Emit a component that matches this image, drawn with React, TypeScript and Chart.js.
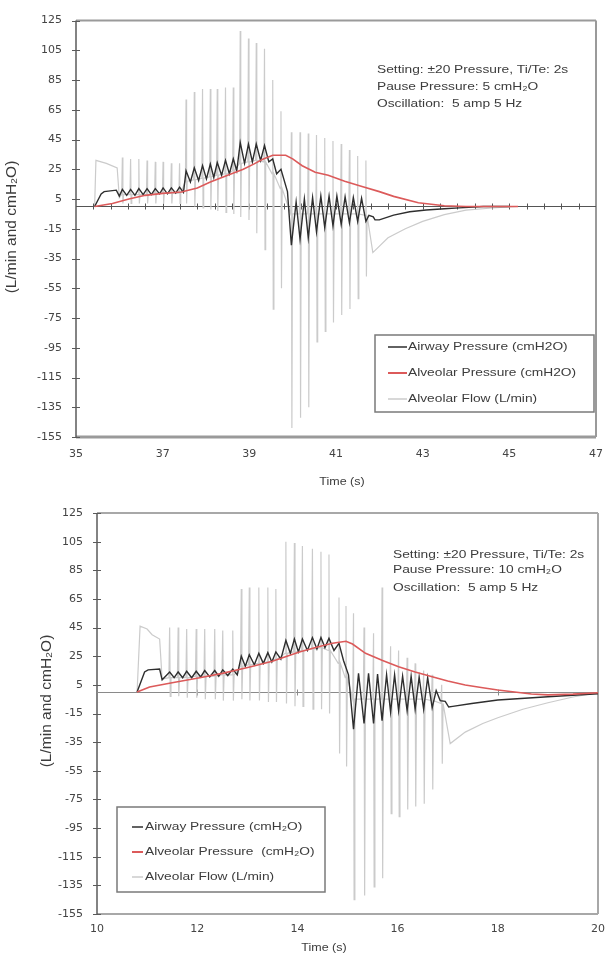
import React, { useEffect, useRef } from "react";
import { Chart, registerables } from "chart.js";

Chart.register(...registerables);

// ================= shared axis values =================
const valueTicks = [-155, -135, -115, -95, -75, -55, -35, -15, 5, 25, 45, 65, 85, 105, 125];

// ================= Panel 1 (pause pressure 5 cmH2O) =================
const p1TimeTicks = [35, 37, 39, 41, 43, 45, 47];
const p1ZeroLineTicks = [35.4, 35.8, 36.2, 36.6, 37.0, 37.4, 37.8, 38.2, 38.6, 39.0, 39.4, 39.8, 40.2, 40.6, 41.0, 41.4, 41.8, 42.2, 42.6, 43.0, 43.4, 43.8, 44.2, 44.6, 45.0, 45.4, 45.8, 46.2, 46.6];

const p1AirwayT = [35.43, 35.58, 35.65, 35.93, 36.0,
  36.07, 36.17, 36.26, 36.36, 36.45, 36.55, 36.64, 36.74, 36.83, 36.93, 37.01, 37.11, 37.2, 37.3, 37.39, 37.48,
  37.54, 37.64, 37.73, 37.83, 37.92, 38.01, 38.1, 38.18, 38.26, 38.36, 38.45, 38.54, 38.63, 38.71,
  38.79, 38.89, 38.98, 39.07, 39.16, 39.26, 39.35, 39.45, 39.54, 39.63, 39.73, 39.88, 39.97,
  40.08, 40.17, 40.27, 40.36, 40.46, 40.55, 40.65, 40.74, 40.84, 40.93, 41.02, 41.12, 41.21, 41.31, 41.4, 41.5, 41.59, 41.69,
  41.76, 41.86, 41.9, 42.0, 42.33, 42.7, 43.08, 43.5, 43.84, 44.4, 45.0];
const p1AirwayV = [0, 8.5, 10, 11, 7,
  11.5, 7.5, 11.5, 7.5, 12, 8, 12, 8, 12, 8.5, 12.5, 8.5, 12.5, 9, 13, 9.5,
  24, 16.5, 26, 17.5, 27.5, 18.5, 28.5, 19.5, 29.5, 21, 31, 22, 32, 24,
  43, 29, 42, 30, 42, 31, 41, 30, 32, 22, 25, 10, -26,
  3, -22, 5, -21, 6, -17, 7, -14, 7, -13, 7, -12, 6.5, -11, 6, -10, 5.5, -10,
  -6, -7, -9, -9, -5.8, -3.5, -2.4, -1.5, -0.9, 0, 0];

const p1AlveolarT = [35.43, 35.84, 36.22, 36.6, 37.0, 37.43, 37.8, 38.1, 38.5, 38.86, 39.1, 39.31, 39.54, 39.84, 40.0, 40.22, 40.52, 40.82, 41.2, 41.6, 42.0, 42.33, 42.9, 43.5, 44.0, 45.2];
const p1AlveolarV = [0, 2, 5, 7.5, 8.8, 9.7, 12.5, 16.4, 21, 25, 28.5, 31.8, 34.5, 34.5, 32, 27.4, 23, 21, 17, 13.5, 10, 6.8, 2.5, 0.5, 0, 0];

const p1FlowLeadT = [35.43, 35.46, 35.7, 35.95, 36.0];
const p1FlowLeadV = [0, 31, 29, 26, 6];
const p1FlowSpikeT = [36.07, 36.26, 36.45, 36.64, 36.83, 37.01, 37.2, 37.39,
  37.54, 37.73, 37.92, 38.1, 38.26, 38.45, 38.63,
  38.79, 38.98, 39.16, 39.35, 39.54, 39.73,
  39.97, 40.17, 40.36, 40.55, 40.74, 40.93, 41.12, 41.31, 41.5, 41.69];
const p1FlowPeak = [33, 32, 32, 31, 30, 30, 29, 29,
  72, 77, 79, 79, 79, 80, 80,
  118, 113, 110, 106, 85, 64,
  50, 50, 49, 48, 46, 44, 42, 38, 34, 31];
const p1FlowTrough = [2, 2, 2, 2, 2, 2, 2, 2,
  2, 0, -1, -2, -3, -4, -5,
  -7, -9, -18, -29, -69, -55,
  -149, -142, -135, -91, -84, -78, -73, -69, -62, -47];
const p1FlowBase = [8, 8, 8, 8, 9, 9, 9, 9,
  17, 18, 19, 20, 21, 22, 24,
  29, 30, 31, 30, 22, 12,
  -5, -5, -5, -5, -5, -5, -5, -5, -5, -6];
const p1FlowTailT = [41.85, 42.2, 42.6, 43.0, 43.5, 44.0, 44.6, 45.2];
const p1FlowTailV = [-31, -21, -15, -10, -5.5, -2.5, -1, 0];

// ================= Panel 2 (pause pressure 10 cmH2O) =================
const p2TimeTicks = [10, 12, 14, 16, 18, 20];
const p2ZeroLineTicks = [12, 14, 16, 18];

const p2AirwayT = [10.8, 10.95, 11.02, 11.25, 11.3,
  11.45, 11.54, 11.62, 11.71, 11.79, 11.89, 11.98, 12.07, 12.15, 12.25, 12.35, 12.43, 12.51, 12.61, 12.71, 12.8,
  12.88, 12.96, 13.04, 13.14, 13.23, 13.32, 13.41, 13.49, 13.57, 13.67,
  13.77, 13.86, 13.94, 14.02, 14.1, 14.2, 14.3, 14.39, 14.47, 14.55, 14.63, 14.73, 14.83, 14.92, 15.02, 15.12,
  15.22, 15.33, 15.42, 15.52, 15.6, 15.69, 15.78, 15.86, 15.94, 16.02, 16.1, 16.19, 16.27, 16.35, 16.43, 16.52, 16.6, 16.69,
  16.77, 16.85, 16.95, 17.02, 17.1, 17.48, 18.0, 19.0, 20.0];
const p2AirwayV = [0, 14, 15.5, 16, 8.5,
  14, 10, 14, 10, 14.5, 10, 14.5, 10.5, 15, 10.5, 15, 11, 15.5, 11.5, 16, 12,
  25, 18, 26, 19, 27, 20, 27.5, 21, 28, 23,
  36, 27, 37, 28, 37, 29, 38, 30, 38, 31, 37.5, 29, 34, 22, 12, -26,
  13, -22, 13, -22, 12.5, -20, 12, -14, 12, -13, 11, -13, 11, -12, 10.5, -12, 10, -11,
  1, -6, -6.5, -10.5, -10, -8, -5.6, -3.3, -1.2];

const p2AlveolarT = [10.8, 11.05, 11.5, 12.05, 12.5, 13.05, 13.5, 14.04, 14.4, 14.7, 14.97, 15.1, 15.36, 15.7, 16.02, 16.35, 16.69, 17.0, 17.35, 17.7, 18.0, 18.67, 19.0, 19.5, 20.0];
const p2AlveolarV = [0, 3.5, 6.5, 10, 13, 17.5, 21.5, 28, 31.5, 34, 35.4, 33.5, 27, 22, 17.7, 14, 10.7, 7.7, 4.9, 3, 1.4, -1.4, -2, -1.5, -0.5];

const p2FlowLeadT = [10.8, 10.86, 11.0, 11.1, 11.25, 11.3];
const p2FlowLeadV = [0, 46, 44, 40, 37, 9];
const p2FlowSpikeT = [11.45, 11.62, 11.79, 11.98, 12.15, 12.35, 12.51, 12.71,
  12.88, 13.04, 13.23, 13.41, 13.57,
  13.77, 13.94, 14.1, 14.3, 14.47, 14.63, 14.83, 14.97,
  15.12, 15.33, 15.52, 15.69, 15.86, 16.02, 16.19, 16.35, 16.52, 16.69, 16.88];
const p2FlowPeak = [45, 45, 44, 44, 44, 44, 43, 43,
  72, 73, 73, 73, 72,
  105, 104, 102, 100, 98, 96, 66, 60,
  55, 45, 41, 73, 32, 29, 24, 20, 15, 12, 5];
const p2FlowTrough = [-3, -3, -4, -4, -5, -5, -6, -6,
  -5, -6, -6, -7, -7,
  -8, -10, -10, -12, -12, -15, -43, -52,
  -145, -142, -136, -130, -85, -87, -82, -80, -78, -68, -50];
const p2FlowBase = [10, 10, 10, 11, 11, 11, 12, 12,
  18, 19, 20, 21, 23,
  27, 28, 29, 30, 31, 29, 20, 10,
  -5, -5, -5, -5, -5, -5, -5, -5, -5, -6, -8];
const p2FlowTailT = [17.05, 17.35, 17.7, 18.0, 18.5, 19.0, 19.5, 20.0];
const p2FlowTailV = [-36, -28, -22, -18, -12, -7.5, -3.5, -0.5];

// ================= helpers =================
type P = { x: number; y: number };
const toPoints = (t: number[], v: number[]): P[] => t.map((x, i) => ({ x, y: v[i] }));

function flowSeries(leadT: number[], leadV: number[], spikeT: number[], peak: number[], trough: number[], base: number[], tailT: number[], tailV: number[]): P[] {
  const out: P[] = toPoints(leadT, leadV);
  spikeT.forEach((t, i) => {
    out.push({ x: t - 0.015, y: base[i] });
    out.push({ x: t, y: peak[i] });
    out.push({ x: t + 0.012, y: trough[i] });
    out.push({ x: t + 0.027, y: base[i] });
  });
  return out.concat(toPoints(tailT, tailV));
}

const SANS = '"Liberation Sans", Arial, sans-serif';
const TEXT = "#3c3c3c";

function drawText(ctx: CanvasRenderingContext2D, text: string, x: number, y: number, size: number, sx: number, align: CanvasTextAlign = "left", rotate = 0) {
  ctx.save();
  ctx.translate(x, y);
  if (rotate) ctx.rotate(rotate);
  ctx.scale(sx, 1);
  ctx.font = `${size}px ${SANS}`;
  ctx.fillStyle = TEXT;
  ctx.textAlign = align;
  ctx.textBaseline = "middle";
  ctx.fillText(text, 0, 0);
  ctx.restore();
}

function seg(ctx: CanvasRenderingContext2D, x1: number, y1: number, x2: number, y2: number, color: string, w: number) {
  ctx.beginPath();
  ctx.strokeStyle = color;
  ctx.lineWidth = w;
  ctx.moveTo(x1, y1);
  ctx.lineTo(x2, y2);
  ctx.stroke();
}

const AIRWAY = "#2e2e2e";
const ALVEOLAR = "#dc5a5a";
const FLOW = "#cbcbcb";

type PanelCfg = {
  canvasTop: number; canvasH: number; padTop: number; padRight: number; yAxisW: number; xAxisH: number; xLabelPad: number;
  xMin: number; xMax: number; xTicks: number[]; zeroTicks: number[]; zeroColor: string; frameColor: string; bottomW: number;
  airway: P[]; alveolar: P[]; flow: P[];
  legendBox: [number, number, number, number]; legendRows: number[]; legendLine: [number, number]; legendTextX: number; legendLabels: string[];
  notesX: number; notesY: number[]; notes: string[];
  xTitle: [number, number]; yTitle: [number, number]; yTitleSize: number;
};

const panel1: PanelCfg = {
  canvasTop: 0, canvasH: 490, padTop: 15, padRight: 8, yAxisW: 76, xAxisH: 53, xLabelPad: 11,
  xMin: 35, xMax: 47, xTicks: p1TimeTicks, zeroTicks: p1ZeroLineTicks, zeroColor: "#555", frameColor: "#9a9a9a", bottomW: 3,
  airway: toPoints(p1AirwayT, p1AirwayV),
  alveolar: toPoints(p1AlveolarT, p1AlveolarV),
  flow: flowSeries(p1FlowLeadT, p1FlowLeadV, p1FlowSpikeT, p1FlowPeak, p1FlowTrough, p1FlowBase, p1FlowTailT, p1FlowTailV),
  legendBox: [375, 335, 594, 412], legendRows: [347, 373, 399], legendLine: [388, 407], legendTextX: 408,
  legendLabels: ["Airway Pressure (cmH2O)", "Alveolar Pressure (cmH2O)", "Alveolar Flow (L/min)"],
  notesX: 377, notesY: [70, 87, 104],
  notes: ["Setting: \u00b120 Pressure, Ti/Te: 2s", "Pause Pressure: 5 cmH\u2082O", "Oscillation:  5 amp 5 Hz"],
  xTitle: [342, 482], yTitle: [12, 227], yTitleSize: 15.5,
};

const panel2: PanelCfg = {
  canvasTop: 490, canvasH: 466, padTop: 23, padRight: 14, yAxisW: 97, xAxisH: 42, xLabelPad: 9,
  xMin: 10, xMax: 20, xTicks: p2TimeTicks, zeroTicks: p2ZeroLineTicks, zeroColor: "#8a8a8a", frameColor: "#a8a8a8", bottomW: 2,
  airway: toPoints(p2AirwayT, p2AirwayV),
  alveolar: toPoints(p2AlveolarT, p2AlveolarV),
  flow: flowSeries(p2FlowLeadT, p2FlowLeadV, p2FlowSpikeT, p2FlowPeak, p2FlowTrough, p2FlowBase, p2FlowTailT, p2FlowTailV),
  legendBox: [117, 317, 325, 402], legendRows: [337, 362, 387], legendLine: [132, 143], legendTextX: 145,
  legendLabels: ["Airway Pressure (cmH\u2082O)", "Alveolar Pressure  (cmH\u2082O)", "Alveolar Flow (L/min)"],
  notesX: 393, notesY: [65, 80, 98],
  notes: ["Setting: \u00b120 Pressure, Ti/Te: 2s", "Pause Pressure: 10 cmH\u2082O", "Oscillation:  5 amp 5 Hz"],
  xTitle: [324, 458], yTitle: [47, 211], yTitleSize: 15.5,
};

function makeDecor(cfg: PanelCfg) {
  return {
    id: "decor",
    beforeDatasetsDraw(chart: any) {
      const { ctx, chartArea: a, scales } = chart;
      const x = scales.x, y = scales.y;
      ctx.save();
      // frame
      seg(ctx, a.left, a.top, a.right, a.top, cfg.frameColor, 2);
      seg(ctx, a.right, a.top, a.right, a.bottom, cfg.frameColor, 2);
      seg(ctx, a.left, a.bottom, a.right, a.bottom, cfg.frameColor, cfg.bottomW);
      seg(ctx, a.left, a.top, a.left, a.bottom, "#5a5a5a", 1.5);
      // value tick marks crossing the left axis
      valueTicks.forEach((v) => {
        const py = Math.round(y.getPixelForValue(v)) + 0.5;
        seg(ctx, a.left - 4, py, a.left + 4, py, "#5a5a5a", 1);
      });
      // zero line with its tick marks
      const y0 = Math.round(y.getPixelForValue(0)) + 0.5;
      seg(ctx, a.left, y0, a.right, y0, cfg.zeroColor, 1);
      cfg.zeroTicks.forEach((t) => {
        const px = Math.round(x.getPixelForValue(t)) + 0.5;
        seg(ctx, px, y0 - 3, px, y0 + 3, cfg.zeroColor, 1);
      });
      ctx.restore();
    },
    afterDatasetsDraw(chart: any) {
      const { ctx } = chart;
      ctx.save();
      // notes
      cfg.notes.forEach((s, i) => drawText(ctx, s, cfg.notesX, cfg.notesY[i], 11, 1.25));
      // legend
      const [x1, y1, x2, y2] = cfg.legendBox;
      ctx.fillStyle = "#ffffff";
      ctx.fillRect(x1, y1, x2 - x1, y2 - y1);
      ctx.strokeStyle = "#7a7a7a";
      ctx.lineWidth = 1.5;
      ctx.strokeRect(x1, y1, x2 - x1, y2 - y1);
      const colors = [AIRWAY, ALVEOLAR, FLOW];
      const widths = [1.5, 2, 1.5];
      cfg.legendLabels.forEach((s, i) => {
        const ry = cfg.legendRows[i];
        seg(ctx, cfg.legendLine[0], ry, cfg.legendLine[1], ry, colors[i], widths[i]);
        drawText(ctx, s, cfg.legendTextX, ry, 11, 1.25);
      });
      // axis titles
      drawText(ctx, "Time (s)", cfg.xTitle[0], cfg.xTitle[1], 10, 1.25, "center");
      drawText(ctx, "(L/min and cmH\u2082O)", cfg.yTitle[0], cfg.yTitle[1], cfg.yTitleSize, 1, "center", -Math.PI / 2);
      ctx.restore();
    },
  };
}

function Panel({ cfg }: { cfg: PanelCfg }) {
  const ref = useRef<HTMLCanvasElement | null>(null);
  useEffect(() => {
    if (!ref.current) return;
    const tickFont = { family: '"DejaVu Sans", sans-serif', size: 11 };
    const chart = new Chart(ref.current, {
      type: "line",
      data: {
        datasets: [
          { label: "Alveolar Pressure", data: cfg.alveolar, borderColor: ALVEOLAR, borderWidth: 1.6, pointRadius: 0, tension: 0, order: 0 },
          { label: "Airway Pressure", data: cfg.airway, borderColor: AIRWAY, borderWidth: 1.4, pointRadius: 0, tension: 0, order: 1 },
          { label: "Alveolar Flow", data: cfg.flow, borderColor: FLOW, borderWidth: 1.2, pointRadius: 0, tension: 0, order: 2 },
        ],
      },
      options: {
        responsive: false,
        animation: false,
        events: [],
        layout: { padding: { top: cfg.padTop, right: cfg.padRight, left: 0, bottom: 0 } },
        plugins: { legend: { display: false }, tooltip: { enabled: false } },
        scales: {
          x: {
            type: "linear",
            min: cfg.xMin,
            max: cfg.xMax,
            afterBuildTicks: (s: any) => { s.ticks = cfg.xTicks.map((v) => ({ value: v })); },
            afterFit: (s: any) => { s.height = cfg.xAxisH; },
            grid: { display: false, drawTicks: false },
            border: { display: false },
            ticks: { font: tickFont, color: "#444", padding: cfg.xLabelPad, maxRotation: 0, autoSkip: false, callback: (v: any) => String(v) },
          },
          y: {
            type: "linear",
            min: -155,
            max: 125,
            afterBuildTicks: (s: any) => { s.ticks = valueTicks.map((v) => ({ value: v })); },
            afterFit: (s: any) => { s.width = cfg.yAxisW; },
            grid: { display: false, drawTicks: false },
            border: { display: false },
            ticks: { font: tickFont, color: "#444", padding: 14, autoSkip: false, callback: (v: any) => String(v) },
          },
        },
      } as any,
      plugins: [makeDecor(cfg)],
    });
    return () => chart.destroy();
  }, [cfg]);
  return (
    <canvas
      ref={ref}
      width={614}
      height={cfg.canvasH}
      style={{ position: "absolute", left: 0, top: cfg.canvasTop, width: 614, height: cfg.canvasH }}
    />
  );
}

export default function App() {
  return (
    <div style={{ position: "absolute", left: 0, top: 0, width: 614, height: 956, background: "#fff", overflow: "hidden" }}>
      <Panel cfg={panel1} />
      <Panel cfg={panel2} />
    </div>
  );
}
